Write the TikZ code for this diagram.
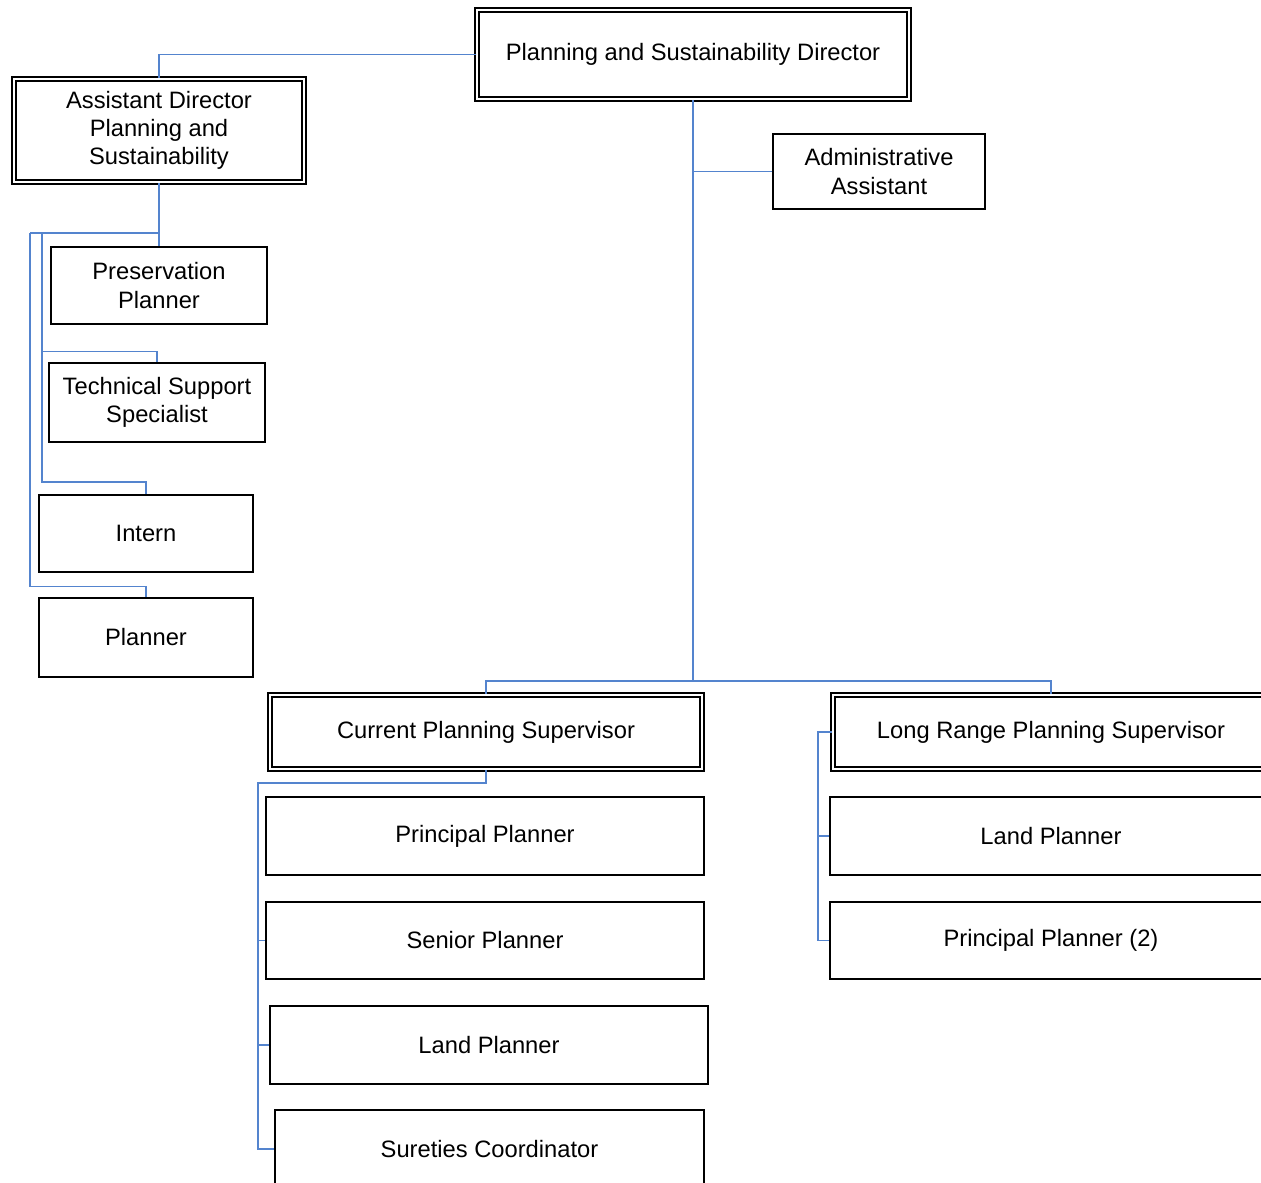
\documentclass[tikz,border=0pt]{standalone}
\usepackage{fontspec}
\setmainfont{Liberation Sans}
\usetikzlibrary{calc}
\definecolor{linkblue}{RGB}{84,132,206}

\begin{document}
\begin{tikzpicture}[x=0.02cm,y=-0.02cm,font=\fontsize{13.5}{16}\selectfont,
  box/.style={draw,line width=0.9pt,align=center,inner sep=0pt},
  dbox/.style={box,double,double distance=1.6pt},
  link/.style={draw=linkblue,line width=0.9pt}]
 \useasboundingbox (0,0) rectangle (1261,1183);
 % top of the tree
 \node[dbox,minimum width=8.64cm,minimum height=1.78cm] (dir) at (693,54.5) {Planning and Sustainability Director};
 \node[dbox,minimum width=5.8cm,minimum height=2.06cm] (asst) at (159,130.5) {Assistant Director\\Planning and\\Sustainability};
 \node[box,minimum width=4.24cm,minimum height=1.5cm] (admin) at (879,171.5) {Administrative\\Assistant};
 % left column
 \node[box,minimum width=4.32cm,minimum height=1.54cm] (pres) at (159,285.5) {Preservation\\Planner};
 \node[box,minimum width=4.32cm,minimum height=1.58cm] (tech) at (157,402.5) {Technical Support\\Specialist};
 \node[box,minimum width=4.28cm,minimum height=1.54cm] (intern) at (146,533.5) {Intern};
 \node[box,minimum width=4.28cm,minimum height=1.58cm] (planner) at (146,637.5) {Planner};
 % supervisors and their teams
 \node[dbox,minimum width=8.64cm,minimum height=1.48cm] (cur) at (486,732) {Current Planning Supervisor};
 \node[box,minimum width=8.76cm,minimum height=1.56cm] (prin) at (485,836) {Principal Planner};
 \node[box,minimum width=8.76cm,minimum height=1.54cm] (senior) at (485,940.5) {Senior Planner};
 \node[box,minimum width=8.76cm,minimum height=1.56cm] (landL) at (489,1045) {Land Planner};
 \node[box,minimum width=8.58cm,minimum height=1.56cm] (sur) at (489.5,1149) {Sureties Coordinator};
 \node[dbox,minimum width=8.72cm,minimum height=1.48cm] (long) at (1051,732) {Long Range Planning Supervisor};
 \node[box,minimum width=8.84cm,minimum height=1.56cm] (landR) at (1051,836) {Land Planner};
 \node[box,minimum width=8.84cm,minimum height=1.54cm] (prin2) at (1051,940.5) {Principal Planner (2)};
 % connectors
 \coordinate (bus) at (693,681);
 \coordinate (hub) at (159,233);\coordinate (o) at (30,233);\coordinate (i) at (42,233);
 \coordinate (cv) at (258,783);\coordinate (lv) at (818,732);
 \draw[link] (dir.west) -| (asst.north);
 \draw[link] (dir.south) -- (bus);
 \draw[link] (admin.west) -- (admin.west -| dir.south);
 \draw[link] (cur.north) |- (bus) -| (long.north);
 \draw[link] (asst.south) -- (pres.north);
 \draw[link] (hub) -- (o);
 \draw[link] (i) |- ([yshift=6pt]tech.north) -- (tech.north);
 \draw[link] (i) |- ([yshift=7pt]intern.north) -- (intern.north);
 \draw[link] (o) |- ([yshift=6pt]planner.north) -- (planner.north);
 \draw[link] (cur.south) |- (cv) |- (sur.west);
 \foreach \n in {senior,landL}{\draw[link] (cv |- \n.west) -- (\n.west);}
 \draw[link] (long.west) -- (lv) |- (prin2.west);
 \draw[link] (lv |- landR.west) -- (landR.west);
\end{tikzpicture}
\end{document}
